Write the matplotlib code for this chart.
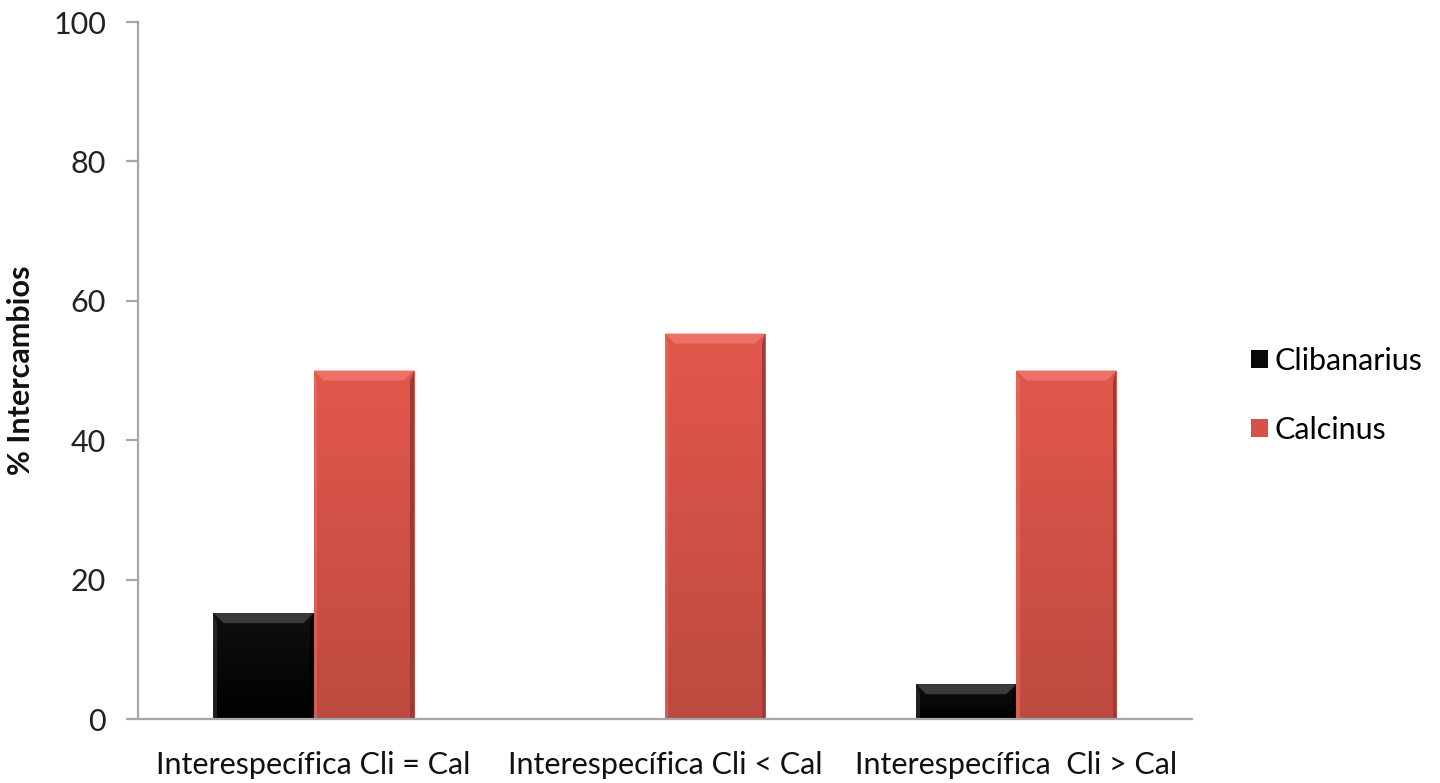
import numpy as np
import matplotlib
matplotlib.use("Agg")
import matplotlib.pyplot as plt
from matplotlib.patches import Polygon, Patch
from matplotlib.colors import LinearSegmentedColormap

plt.rcParams['font.family'] = ['Lato', 'DejaVu Sans']

categories = ["Interespecífica Cli = Cal", "Interespecífica Cli < Cal", "Interespecífica  Cli > Cal"]
clibanarius = [15.2, 0.0, 5.0]
calcinus = [50.0, 55.3, 50.0]
series_names = ["Clibanarius", "Calcinus"]
yticks = [0, 20, 40, 60, 80, 100]

fig = plt.figure(figsize=(14.4, 7.83), dpi=100)
ax = fig.add_axes([0.0958, 0.0817, 0.7320, 0.8902])

x = np.arange(len(categories))
width = 0.285

red_top, red_bot = "#E2574C", "#BD4A40"
blk_top, blk_bot = "#101010", "#000000"

bars_cli = ax.bar(x - width / 2, clibanarius, width, color=blk_bot, zorder=2)
bars_cal = ax.bar(x + width / 2, calcinus, width, color=red_bot, zorder=2)

ax.set_xlim(-0.5, 2.5)
ax.set_ylim(0, 100)

# vertical gradient + bevelled edges for each bar
def shade(bars, top, bottom, bevel_light, bevel_dark):
    cmap = LinearSegmentedColormap.from_list("g", [bottom, top])
    grad = np.linspace(0, 1, 256).reshape(-1, 1)
    for b in bars:
        h = b.get_height()
        if h <= 0:
            continue
        x0, w = b.get_x(), b.get_width()
        im = ax.imshow(grad, cmap=cmap, aspect="auto", origin="lower",
                       extent=[x0, x0 + w, 0, h], zorder=2.1)
        im.set_clip_path(b)
        dx = 10 / (ax.bbox.width / 3.0)
        dy = 10 / (ax.bbox.height / 100.0)
        dy = min(dy, h / 2)
        top_bev = Polygon([[x0, h], [x0 + w, h], [x0 + w - dx, h - dy], [x0 + dx, h - dy]],
                          closed=True, facecolor=bevel_light, edgecolor="none", zorder=2.2)
        ax.add_patch(top_bev)
        right_bev = Polygon([[x0 + w, h], [x0 + w, 0], [x0 + w - dx * 0.35, 0], [x0 + w - dx * 0.35, h - dy]],
                            closed=True, facecolor=bevel_dark, edgecolor="none", zorder=2.2)
        ax.add_patch(right_bev)
        left_bev = Polygon([[x0, h], [x0, 0], [x0 + dx * 0.35, 0], [x0 + dx * 0.35, h - dy]],
                           closed=True, facecolor=bevel_light, edgecolor="none", zorder=2.2, alpha=0.5)
        ax.add_patch(left_bev)

fig.canvas.draw()
shade(bars_cli, blk_top, blk_bot, "#3a3a3a", "#000000")
shade(bars_cal, red_top, red_bot, "#EC7268", "#9E3A32")

for s in ["top", "right"]:
    ax.spines[s].set_visible(False)
for s in ["left", "bottom"]:
    ax.spines[s].set_color("#A6A6A6")
    ax.spines[s].set_linewidth(1.6)

ax.set_yticks(yticks)
ax.set_yticklabels([str(t) for t in yticks], fontsize=22, color="#222222")
ax.tick_params(axis="y", length=9, width=1.6, color="#A6A6A6", pad=14)
ax.set_xticks(x)
ax.set_xticklabels(categories, fontsize=22, color="#111111")
ax.tick_params(axis="x", length=0, pad=23)

ax.set_ylabel("% Intercambios", fontsize=22, fontweight="bold", color="#111111")
ax.yaxis.set_label_coords(-0.098, 0.5)

handles = [Patch(facecolor="#080808", edgecolor="none"), Patch(facecolor="#D65248", edgecolor="none")]
fig.legend(handles, series_names, loc="center left", bbox_to_anchor=(0.869, 0.495),
           frameon=False, fontsize=22, handlelength=0.55, handleheight=0.55,
           handletextpad=0.2, labelspacing=1.35, borderaxespad=0, borderpad=0)

fig.savefig("out.png", dpi=100)
